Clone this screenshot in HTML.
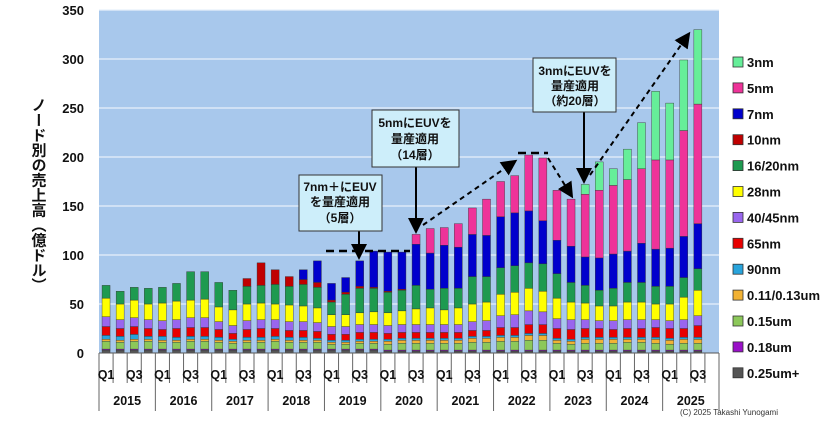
<!DOCTYPE html>
<html><head><meta charset="utf-8">
<style>
body{margin:0;background:#fff;}
svg{display:block;font-family:"Liberation Sans","Noto Sans CJK JP",sans-serif;}
</style></head>
<body>
<svg id="chart" width="830" height="427" viewBox="0 0 830 427" xmlns="http://www.w3.org/2000/svg">
<rect x="99" y="10" width="620" height="343" fill="#a8c8ec"/>
<g id="grid"></g>
<g id="bars"></g>
<g id="axes"></g>
<g id="legend"></g>
<text x="38" y="195" font-size="15" font-weight="bold" fill="#111" style="writing-mode:vertical-rl;" text-anchor="middle">ノード別の売上高（億ドル）</text>
<text x="680" y="415" font-size="8" fill="#333">(C) 2025 Takashi Yunogami</text>
<g id="annot">
<defs><marker id="ah" markerWidth="8" markerHeight="8" refX="6" refY="4" orient="auto"><path d="M0,0 L8,4 L0,8 z" fill="#000"/></marker></defs>
<line x1="326" y1="251" x2="410" y2="251" stroke="#000" stroke-width="2.5" stroke-dasharray="8,5"/>
<line x1="359" y1="231" x2="359" y2="256" stroke="#000" stroke-width="2" marker-end="url(#ah)"/>
<line x1="416" y1="167" x2="416" y2="230" stroke="#000" stroke-width="2" marker-end="url(#ah)"/>
<line x1="423" y1="225" x2="514" y2="162" stroke="#000" stroke-width="2" stroke-dasharray="5,4" marker-end="url(#ah)"/>
<line x1="518" y1="153" x2="548" y2="153" stroke="#000" stroke-width="2.5" stroke-dasharray="8,5"/>
<line x1="548" y1="158" x2="571" y2="195" stroke="#000" stroke-width="2" stroke-dasharray="5,4" marker-end="url(#ah)"/>
<line x1="584" y1="112" x2="584" y2="180" stroke="#000" stroke-width="2" marker-end="url(#ah)"/>
<line x1="590" y1="175" x2="688" y2="35" stroke="#000" stroke-width="2" stroke-dasharray="5,4" marker-end="url(#ah)"/>
<g>
<rect x="299" y="175" width="83" height="56" fill="#cdeefa" stroke="#333" stroke-width="1"/>
<text x="340" y="191" font-size="12" font-weight="bold" text-anchor="middle" fill="#111">7nm＋にEUV</text>
<text x="340" y="206" font-size="12" font-weight="bold" text-anchor="middle" fill="#111">を量産適用</text>
<text x="340" y="222" font-size="12" font-weight="bold" text-anchor="middle" fill="#111">（5層）</text>
</g>
<g>
<rect x="372" y="110" width="87" height="57" fill="#cdeefa" stroke="#333" stroke-width="1"/>
<text x="415" y="127" font-size="12" font-weight="bold" text-anchor="middle" fill="#111">5nmにEUVを</text>
<text x="415" y="143" font-size="12" font-weight="bold" text-anchor="middle" fill="#111">量産適用</text>
<text x="415" y="159" font-size="12" font-weight="bold" text-anchor="middle" fill="#111">（14層）</text>
</g>
<g>
<rect x="533" y="58" width="83" height="54" fill="#cdeefa" stroke="#333" stroke-width="1"/>
<text x="575" y="75" font-size="12" font-weight="bold" text-anchor="middle" fill="#111">3nmにEUVを</text>
<text x="575" y="90" font-size="12" font-weight="bold" text-anchor="middle" fill="#111">量産適用</text>
<text x="575" y="105" font-size="12" font-weight="bold" text-anchor="middle" fill="#111">（約20層）</text>
</g>
</g>
</svg>
<script>
const years = ["2015","2016","2017","2018","2019","2020","2021","2022","2023","2024","2025"];
const quarters = ["Q1","Q2","Q3","Q4"];
const yTicks = [0,50,100,150,200,250,300,350];
const seriesNames = ["0.25um+","0.18um","0.15um","0.11/0.13um","90nm","65nm","40/45nm","28nm","16/20nm","10nm","7nm","5nm","3nm"];
const seriesColors = ["#555555","#9a10c8","#8cc85a","#f2b234","#28a4dc","#e80000","#9966ee","#ffff00","#1e9a50","#c00000","#0000cc","#ee3399","#66ee99"];
const s025 = [3,3,3,3,3,3,3,3,3,3,3,3,3,3,3,3,3,3,3,3,2,2,2,2,2,2,2,2,2,2,2,2,2,2,2,2,2,2,2,2,2,2,2,0];
const s018 = [1,1,1,1,1,1,1,1,1,1,1,1,1,1,1,1,1,1,1,1,1,1,1,1,1,1,1,1,1,1,1,1,1,1,1,1,1,1,1,1,1,1,1,0];
const s015 = [8,7,8,8,7,7,8,8,7,6,7,7,8,7,7,7,5,5,6,6,6,7,7,7,7,7,8,8,9,9,10,10,7,6,7,7,7,8,8,7,6,7,7,0];
const s011 = [2,2,2,2,2,2,2,2,2,2,2,2,2,2,2,2,2,2,2,2,3,3,3,3,3,3,4,4,4,4,5,5,3,3,4,4,4,3,3,4,4,4,4,0];
const s90 = [4,4,5,3,4,3,3,3,3,2,3,3,3,3,3,2,2,2,2,2,2,2,2,2,2,2,2,2,2,2,2,2,2,2,2,2,2,2,2,2,2,2,2,0];
const s65 = [9,8,8,8,7,9,9,9,8,6,8,9,8,7,7,7,6,6,7,7,6,6,6,6,6,6,6,6,8,8,9,9,10,10,9,9,8,9,9,10,10,9,12,0];
const s40 = [10,9,9,9,9,9,10,10,8,8,9,9,9,9,9,9,8,8,8,8,8,8,8,8,8,8,9,10,12,13,14,13,10,10,9,8,9,9,9,8,8,9,10,0];
const s28 = [19,16,18,16,18,19,18,19,15,16,17,17,16,17,16,15,12,12,12,13,13,14,16,17,15,17,18,19,22,23,23,21,21,18,17,15,15,18,18,16,17,23,26,0];
const s1620 = [13,13,13,16,16,18,29,28,25,20,18,18,20,19,22,21,13,21,25,24,21,21,24,19,22,20,28,26,27,27,26,28,25,20,18,16,18,20,20,18,18,20,22,0];
const s10 = [0,0,0,0,0,0,0,0,0,0,8,23,15,10,5,5,2,2,2,1,1,1,0,0,0,0,0,0,0,0,0,0,0,0,0,0,0,0,0,0,0,0,0,0];
const s7 = [0,0,0,0,0,0,0,0,0,0,0,0,0,0,10,22,17,15,26,37,40,38,42,37,44,42,43,42,52,54,53,44,34,37,29,33,35,32,40,38,39,42,46,0];
const s5 = [0,0,0,0,0,0,0,0,0,0,0,0,0,0,0,0,0,0,0,0,0,0,10,25,18,24,27,37,36,38,57,64,51,48,64,69,70,73,76,91,90,108,122,0];
const s3 = [0,0,0,0,0,0,0,0,0,0,0,0,0,0,0,0,0,0,0,0,0,0,0,0,0,0,0,0,0,0,0,0,0,0,10,29,17,31,47,70,58,72,76,0];
const seriesData = [s025,s018,s015,s011,s90,s65,s40,s28,s1620,s10,s7,s5,s3];

const NS = "http://www.w3.org/2000/svg";
const X0 = 99, X1 = 719, Y0 = 353, Y1 = 10, YMAX = 350;
const nCat = years.length * 4;
const slot = (X1 - X0) / nCat;
function xScale(i){ return X0 + slot * (i + 0.5); }
function yScale(v){ return Y0 - (v / YMAX) * (Y0 - Y1); }
function mk(tag, attrs, parent){ const e = document.createElementNS(NS, tag); for (const k in attrs) e.setAttribute(k, attrs[k]); parent.appendChild(e); return e; }

const grid = document.getElementById('grid');
const axes = document.getElementById('axes');
yTicks.forEach(function(t){
  if (t > 0) {
    const gl = mk('line', {x1:X0, x2:X1, y1:yScale(t), y2:yScale(t), stroke:'#e8f0fa', 'stroke-width':1.2}, grid);
    
    
  }
  const tl = mk('text', {x:84, y:yScale(t)+5, 'font-size':13, 'font-weight':'bold', 'text-anchor':'end', fill:'#111'}, axes);
  tl.textContent = t;
  
  
});

const bars = document.getElementById('bars');
const bw = 8;
for (let i = 0; i < nCat; i++) {
  let cum = 0;
  for (let s = 0; s < seriesData.length; s++) {
    const v = seriesData[s][i] || 0;
    if (v <= 0) continue;
    const yTop = yScale(cum + v), yBot = yScale(cum);
    const r = mk('rect', {x:xScale(i)-bw/2, y:yTop, width:bw, height:yBot-yTop, fill:seriesColors[s], stroke:'#333', 'stroke-width':0.4}, bars);
    
    
    cum += v;
  }
}

mk('line', {x1:X0, x2:X1, y1:Y0, y2:Y0, stroke:'#555', 'stroke-width':1}, axes);
for (let i = 0; i <= nCat; i++) {
  const x = X0 + slot * i;
  const isYear = (i % 4 === 0);
  mk('line', {x1:x, x2:x, y1:Y0, y2:isYear ? 411 : 383, stroke:'#666', 'stroke-width':1}, axes);
}
for (let i = 0; i < nCat; i++) {
  const q = quarters[i % 4];
  if (q === "Q1" || q === "Q3") {
    const ql = mk('text', {x:xScale(i), y:379, 'font-size':12.5, 'font-weight':'bold', 'text-anchor':'middle', fill:'#111'}, axes);
    ql.textContent = q;
    
    
  }
}
years.forEach(function(yr, k){
  const yl = mk('text', {x:X0 + slot * (4*k + 2), y:405, 'font-size':12.5, 'font-weight':'bold', 'text-anchor':'middle', fill:'#111'}, axes);
  yl.textContent = yr;
  
  
});

const legend = document.getElementById('legend');
for (let k = 0; k < seriesNames.length; k++) {
  const s = seriesNames.length - 1 - k;
  const y = 62 + k * 25.9;
  const g = mk('g', {}, legend);
  
  
  mk('rect', {x:733, y:y-5, width:10, height:10, fill:seriesColors[s], stroke:'#333', 'stroke-width':0.8}, g);
  const t = mk('text', {x:747, y:y+5, 'font-size':13, 'font-weight':'bold', fill:'#111'}, g);
  t.textContent = seriesNames[s];
}
</script>
</body></html>
